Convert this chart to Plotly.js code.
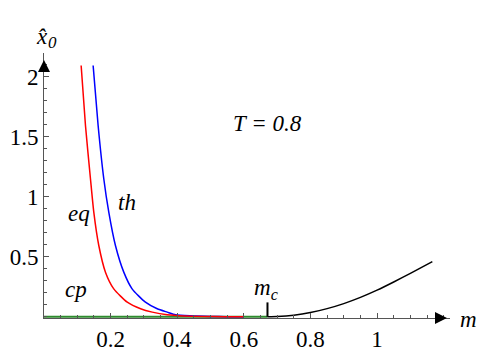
<!DOCTYPE html>
<html>
<head>
<meta charset="utf-8">
<script src="https://cdn.plot.ly/plotly-3.0.1.min.js"></script>
<style>
  body { margin: 0; background: #fff; }
  #chart { width: 485px; height: 353px; }
</style>
</head>
<body>
<div id="chart"></div>
<script>
// eq curve (red)
let mEq = [0.1115, 0.1245, 0.1395, 0.1495, 0.1645, 0.1845, 0.2095, 0.25, 0.29, 0.325, 0.37, 0.42, 0.48, 0.54, 0.6];
let xEq = [2.094, 1.594, 1.15, 0.872, 0.594, 0.372, 0.233, 0.122, 0.067, 0.039, 0.017, 0.007, 0.003, 0.001, 0];

// th curve (blue)
let mTh = [0.1475, 0.1625, 0.1795, 0.1945, 0.2145, 0.2395, 0.2645, 0.3045, 0.34, 0.37, 0.395, 0.44, 0.5, 0.55, 0.6];
let xTh = [2.094, 1.594, 1.15, 0.872, 0.594, 0.372, 0.233, 0.122, 0.067, 0.039, 0.017, 0.008, 0.003, 0.001, 0];

// cp branch: zero up to m_c (green), then rising (black)
let mc = 0.671;
let mZero = [0, mc];
let xZero = [0, 0];
let mCp = [mc, 0.7, 0.75, 0.8, 0.85, 0.9, 0.95, 1.0, 1.05, 1.1, 1.166];
let xCp = [0, 0.002, 0.013, 0.035, 0.068, 0.11, 0.162, 0.222, 0.29, 0.362, 0.46];

// tick labels
let xTicks = [0.2, 0.4, 0.6, 0.8, 1];
let xTickText = ['0.2', '0.4', '0.6', '0.8', '1'];
let yTicks = [0.5, 1, 1.5, 2];
let yTickText = ['0.5', '1', '1.5', '2'];

let serif = 'Liberation Serif';
let axisGray = '#555';

let traces = [
    {x: mZero, y: xZero, mode: 'lines', line: {color: '#2e8b2e', width: 2}},
    {x: mTh, y: xTh, mode: 'lines', line: {color: '#0000ff', width: 1.5, shape: 'spline', smoothing: 0.6}},
    {x: mEq, y: xEq, mode: 'lines', line: {color: '#ff0000', width: 1.5, shape: 'spline', smoothing: 0.6}},
    {x: mCp, y: xCp, mode: 'lines', line: {color: '#000000', width: 1.5, shape: 'spline', smoothing: 0.5}},
    // m_c marker
    {x: [mc, mc], y: [0, 0.12], mode: 'lines', line: {color: '#000000', width: 2}}
];

let italic = {family: serif, size: 23, color: '#000'};
let italicSmall = {family: serif, size: 17, color: '#000'};

let layout = {
    width: 485,
    height: 353,
    margin: {l: 44, r: 35, t: 53, b: 35},
    showlegend: false,
    paper_bgcolor: '#fff',
    plot_bgcolor: '#fff',
    font: {family: serif, size: 23, color: '#000'},
    xaxis: {
        range: [0, 1.219],
        showgrid: false,
        zeroline: false,
        showline: true,
        linecolor: axisGray,
        linewidth: 1,
        ticks: 'inside',
        ticklen: 5,
        tickcolor: axisGray,
        tickvals: xTicks,
        ticktext: xTickText,
        tickfont: {family: serif, size: 23, color: '#000'},
        minor: {dtick: 0.05, tick0: 0, ticks: 'inside', ticklen: 3, tickcolor: axisGray},
        fixedrange: true
    },
    yaxis: {
        range: [-0.01, 2.198],
        showgrid: false,
        zeroline: false,
        showline: true,
        linecolor: axisGray,
        linewidth: 1,
        ticks: 'inside',
        ticklen: 5,
        tickcolor: axisGray,
        tickvals: yTicks,
        ticktext: yTickText,
        tickfont: {family: serif, size: 23, color: '#000'},
        minor: {dtick: 0.1, tick0: 0, ticks: 'inside', ticklen: 3, tickcolor: axisGray},
        fixedrange: true
    },
    annotations: [
        // axis arrowheads
        {x: 1.21, y: -0.01, ax: -12, ay: 0, text: '', showarrow: true, arrowhead: 2, arrowsize: 2, arrowwidth: 1.2, arrowcolor: '#000'},
        {x: 0, y: 2.14, ax: 0, ay: 12, text: '', showarrow: true, arrowhead: 2, arrowsize: 2, arrowwidth: 1.2, arrowcolor: '#000'},
        // axis labels
        {xref: 'paper', yref: 'paper', x: 1.046, y: -0.004, xanchor: 'center', yanchor: 'middle',
         text: '<i>m</i>', showarrow: false, font: italic},
        {x: 0.001, y: 2.19, xshift: -2, yshift: 17, xanchor: 'center', yanchor: 'middle',
         text: '<i>x\u0302</i>', showarrow: false, font: italic},
        {x: 0.027, y: 2.19, yshift: 11, xanchor: 'center', yanchor: 'middle',
         text: '<i>0</i>', showarrow: false, font: italicSmall},
        // curve labels
        {x: 0.104, y: 0.86, text: '<i>eq</i>', showarrow: false, font: italic},
        {x: 0.25, y: 0.95, text: '<i>th</i>', showarrow: false, font: italic},
        {x: 0.0975, y: 0.225, text: '<i>cp</i>', showarrow: false, font: italic},
        {x: 0.67, y: 1.61, text: '<i>T = 0.8</i>', showarrow: false, font: italic},
        {x: 0.666, y: 0.23, text: '<i>m</i><sub><i>c</i></sub>', showarrow: false, font: italic}
    ]
};

Plotly.newPlot('chart', traces, layout, {displayModeBar: false, staticPlot: true});
</script>
</body>
</html>
